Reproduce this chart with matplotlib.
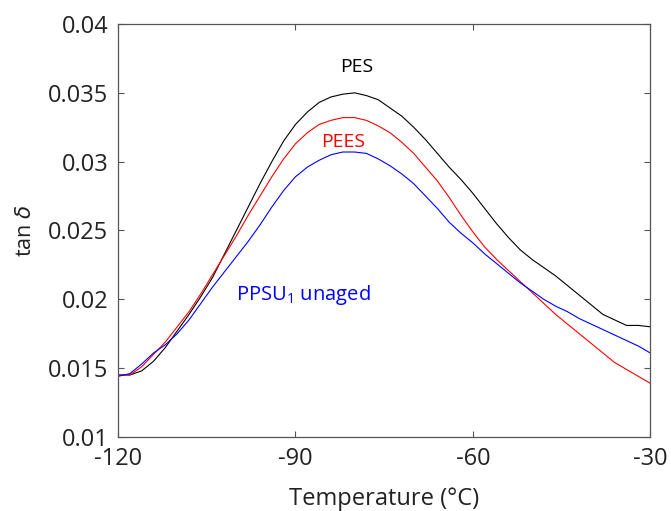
import numpy as np
import matplotlib
matplotlib.use("Agg")
import matplotlib.pyplot as plt

# temperature grid (°C)
temperature = list(range(-120, -29, 2))

# tan delta readings per material
tan_pes = [
    0.0145, 0.0145, 0.0148, 0.0155, 0.0165, 0.0177, 0.0189, 0.0202, 0.0216, 0.0233,
    0.0250, 0.0267, 0.0284, 0.0300, 0.0315, 0.0327, 0.0336, 0.0343, 0.0347, 0.0349,
    0.0350, 0.0348, 0.0345, 0.0339, 0.0333, 0.0325, 0.0316, 0.0306, 0.0296, 0.0287,
    0.0277, 0.0266, 0.0255, 0.0245, 0.0236, 0.0229, 0.0223, 0.0217, 0.0210, 0.0203,
    0.0196, 0.0189, 0.0185, 0.0181, 0.0181, 0.0180,
]
tan_pees = [
    0.0145, 0.0145, 0.0151, 0.0160, 0.0169, 0.0180, 0.0191, 0.0204, 0.0218, 0.0232,
    0.0246, 0.0261, 0.0275, 0.0289, 0.0302, 0.0313, 0.0321, 0.0327, 0.0330, 0.0332,
    0.0332, 0.0330, 0.0326, 0.0321, 0.0314, 0.0306, 0.0296, 0.0286, 0.0274, 0.0261,
    0.0249, 0.0238, 0.0229, 0.0221, 0.0213, 0.0205, 0.0197, 0.0189, 0.0182, 0.0175,
    0.0168, 0.0161, 0.0154, 0.0149, 0.0144, 0.0139,
]
tan_ppsu = [
    0.0144, 0.0146, 0.0153, 0.0161, 0.0167, 0.0175, 0.0185, 0.0197, 0.0209, 0.0220,
    0.0231, 0.0242, 0.0254, 0.0267, 0.0279, 0.0289, 0.0296, 0.0301, 0.0305, 0.0307,
    0.0307, 0.0306, 0.0302, 0.0297, 0.0291, 0.0284, 0.0275, 0.0266, 0.0256, 0.0248,
    0.0241, 0.0233, 0.0226, 0.0219, 0.0212, 0.0206, 0.0200, 0.0195, 0.0191, 0.0186,
    0.0182, 0.0178, 0.0174, 0.0170, 0.0166, 0.0161,
]

x_ticks = [-120, -90, -60, -30]
y_ticks = [0.01, 0.015, 0.02, 0.025, 0.03, 0.035, 0.04]
y_tick_labels = ["0.01", "0.015", "0.02", "0.025", "0.03", "0.035", "0.04"]

plt.rcParams["font.family"] = ["Open Sans", "DejaVu Sans"]
plt.rcParams["axes.unicode_minus"] = False

fig = plt.figure(figsize=(6.71, 5.11), dpi=100)
ax = fig.add_axes([0.176, 0.145, 0.793, 0.808])

ax.plot(temperature, tan_pes, color="black", linewidth=0.8)
ax.plot(temperature, tan_pees, color="#ff0000", linewidth=0.8)
ax.plot(temperature, tan_ppsu, color="#0000ff", linewidth=0.8)

# curve labels
ax.text(-79.6, 0.0369, "PES", color="black", fontsize=14, ha="center", va="center")
ax.text(-81.9, 0.0314, "PEES", color="#ff0000", fontsize=14, ha="center", va="center")
ax.text(-100.0, 0.0203, r"PPSU$_{\mathregular{1}}$ unaged", color="#0000ff",
        fontsize=14.5, ha="left", va="center")

ax.set_xlim(-120, -30)
ax.set_ylim(0.01, 0.04)
ax.set_xticks(x_ticks)
ax.set_yticks(y_ticks)
ax.set_yticklabels(y_tick_labels)
ax.tick_params(direction="in", length=4, width=0.8, color="#555555",
               labelsize=17, labelcolor="#222222", top=True, right=True, pad=7)
for spine in ax.spines.values():
    spine.set_color("#555555")
    spine.set_linewidth(0.9)

ax.set_xlabel("Temperature (°C)", fontsize=17, color="#222222", labelpad=12)
ax.set_ylabel(r"tan $\delta$", fontsize=15.5, color="#222222")
ax.yaxis.set_label_coords(-0.155, 0.5)

fig.savefig("out.png", dpi=100)
